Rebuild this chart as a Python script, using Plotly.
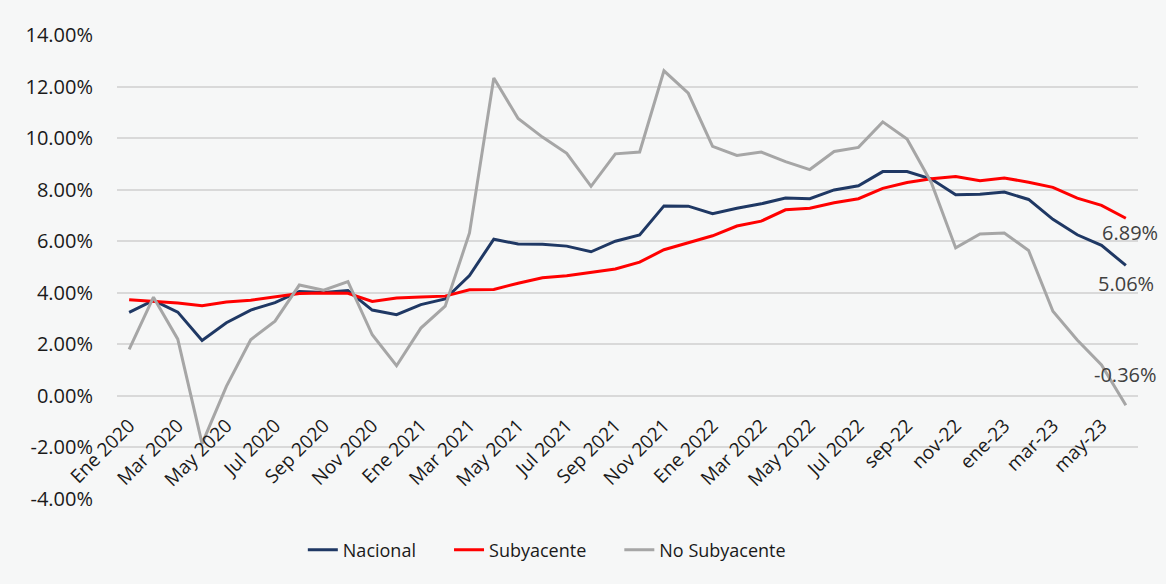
import plotly.graph_objects as go

months = [
    "Ene 2020", "Feb 2020", "Mar 2020", "Abr 2020", "May 2020", "Jun 2020",
    "Jul 2020", "Ago 2020", "Sep 2020", "Oct 2020", "Nov 2020", "Dic 2020",
    "Ene 2021", "Feb 2021", "Mar 2021", "Abr 2021", "May 2021", "Jun 2021",
    "Jul 2021", "Ago 2021", "Sep 2021", "Oct 2021", "Nov 2021", "Dic 2021",
    "Ene 2022", "Feb 2022", "Mar 2022", "Abr 2022", "May 2022", "Jun 2022",
    "Jul 2022", "ago-22", "sep-22", "oct-22", "nov-22", "dic-22",
    "ene-23", "feb-23", "mar-23", "abr-23", "may-23", "jun-23",
]

nacional = [
    3.24, 3.70, 3.25, 2.15, 2.84, 3.33, 3.62, 4.05, 4.01, 4.09, 3.33, 3.15,
    3.54, 3.76, 4.67, 6.08, 5.89, 5.88, 5.81, 5.59, 6.00, 6.24, 7.37, 7.36,
    7.07, 7.28, 7.45, 7.68, 7.65, 7.99, 8.15, 8.70, 8.70, 8.41, 7.80, 7.82,
    7.91, 7.62, 6.85, 6.25, 5.84, 5.06,
]

subyacente = [
    3.73, 3.66, 3.60, 3.50, 3.64, 3.71, 3.85, 3.97, 3.99, 3.98, 3.66, 3.80,
    3.84, 3.87, 4.12, 4.13, 4.37, 4.58, 4.66, 4.78, 4.92, 5.19, 5.67, 5.94,
    6.21, 6.59, 6.78, 7.22, 7.28, 7.49, 7.65, 8.05, 8.28, 8.42, 8.51, 8.35,
    8.45, 8.29, 8.09, 7.67, 7.39, 6.89,
]

no_subyacente = [
    1.80, 3.83, 2.20, -1.85, 0.37, 2.18, 2.90, 4.30, 4.10, 4.43, 2.37, 1.17,
    2.63, 3.48, 6.32, 12.33, 10.76, 10.04, 9.41, 8.13, 9.39, 9.46, 12.61, 11.74,
    9.68, 9.33, 9.46, 9.09, 8.78, 9.48, 9.64, 10.63, 9.96, 8.27, 5.74, 6.28,
    6.32, 5.64, 3.28, 2.17, 1.20, -0.36,
]

tick_labels = months[::2]
y_ticks = [-4, -2, 0, 2, 4, 6, 8, 10, 12, 14]

series = [
    ("Nacional", nacional, "#1f3864"),
    ("Subyacente", subyacente, "#ff0000"),
    ("No Subyacente", no_subyacente, "#a6a6a6"),
]

PAD = "\u00a0" * 6

fig = go.Figure()
for name, vals, color in series:
    fig.add_trace(go.Scatter(
        x=months, y=vals, name=name + PAD, mode="lines",
        line=dict(color=color, width=3),
    ))

# end labels
end_labels = [
    (subyacente[-1], 4, -14),
    (nacional[-1], 0, -18),
    (no_subyacente[-1], 0, 31),
]
for val, xs, ys in end_labels:
    fig.add_annotation(
        x=months[-1], y=val, text=f"{val:.2f}%", showarrow=False,
        xanchor="center", yanchor="middle", xshift=xs, yshift=ys,
        font=dict(family="Open Sans", size=20, color="#404040"),
    )

BG = "#f6f7f7"
fig.update_layout(
    width=1166, height=584,
    margin=dict(l=117, r=28, t=35, b=85),
    paper_bgcolor=BG,
    plot_bgcolor="rgba(0,0,0,0)",
    font=dict(family="Open Sans", color="#1a1a1a"),
    showlegend=True,
    legend=dict(
        orientation="h", x=0.182, xanchor="left", y=-0.11, yanchor="middle",
        font=dict(size=18, color="#1a1a1a"), bgcolor="rgba(0,0,0,0)",
        tracegroupgap=0,
    ),
    xaxis=dict(
        type="category", range=[-0.5, len(months) - 0.5],
        tickmode="array", tickvals=tick_labels, ticktext=tick_labels,
        tickangle=-45, tickfont=dict(size=19, color="#1a1a1a"),
        showgrid=False, showline=False, ticks="", zeroline=False,
        ticklabelstandoff=14,
        anchor="free", position=(0 - y_ticks[0]) / (y_ticks[-1] - y_ticks[0]),
    ),
    yaxis=dict(
        range=[y_ticks[0], y_ticks[-1]], tickmode="array", tickvals=y_ticks,
        ticktext=[f"{v:.2f}%" for v in y_ticks],
        tickfont=dict(size=20, color="#1a1a1a"),
        showgrid=True, gridcolor="#d9d9d9", gridwidth=1.5,
        zeroline=False, showline=False, ticks="", ticklabelstandoff=23,
    ),
)

fig.write_html(
    "out.html",
    config={"displayModeBar": False},
    post_script=f"document.body.style.margin='0';document.body.style.background='{BG}';",
)
